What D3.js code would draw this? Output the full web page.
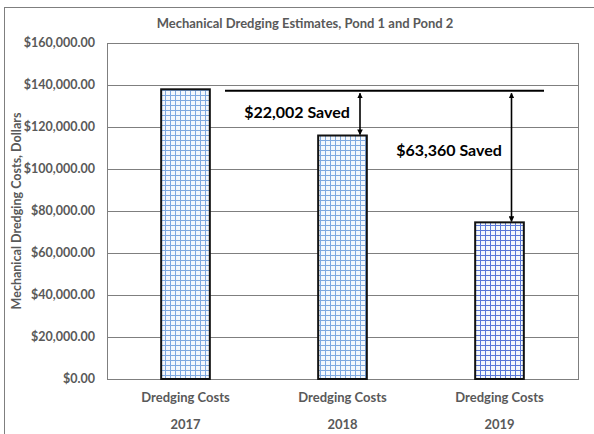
<!DOCTYPE html>
<html>
<head>
<meta charset="utf-8">
<script src="https://cdn.jsdelivr.net/npm/d3@7"></script>
<style>
  body { margin: 0; background: #fff; }
  svg text { font-family: Lato, "Open Sans", sans-serif; }
</style>
</head>
<body>
<div id="chart"></div>
<script>
// chart data
const categories = ["2017", "2018", "2019"];
const catLabel = "Dredging Costs";
const costs = [137950, 115948, 74590];
const gridColors = ["#7fa9e0", "#7fa9e0", "#5a78d8"];
const yTicks = [0, 20000, 40000, 60000, 80000, 100000, 120000, 140000, 160000];
const savings = [
  { label: "$22,002 Saved", to: 1 },
  { label: "$63,360 Saved", to: 2 }
];

const width = 594, height = 434;
const margin = { top: 43, right: 16, bottom: 55, left: 107 };

let svg = d3.select('#chart').append('svg')
  .attr('width', width).attr('height', height);

// outer chart frame (runs off the picture right/bottom)
svg.append('rect')
  .attr('x', 4.5).attr('y', 7.5)
  .attr('width', width + 10).attr('height', height + 10)
  .attr('fill', 'none').attr('stroke', '#7f7f7f').attr('stroke-width', 1);

let defs = svg.append('defs');
gridColors.forEach((c, i) => {
  let p = defs.append('pattern')
    .attr('id', 'grid' + i)
    .attr('patternUnits', 'userSpaceOnUse')
    .attr('width', 5).attr('height', 5);
  p.append('rect').attr('width', 5).attr('height', 5).attr('fill', '#f4f8fd');
  p.append('path').attr('d', 'M0,0.5H5M0.5,0V5')
    .attr('stroke', c).attr('stroke-width', 1).attr('fill', 'none');
});

let x = d3.scaleBand()
  .domain(categories)
  .range([margin.left, width - margin.right])
  .paddingInner(0.69).paddingOuter(0.345);

let y = d3.scaleLinear()
  .domain([0, 160000])
  .range([height - margin.bottom, margin.top]);

// gridlines
svg.append('g')
  .selectAll('line').data(yTicks).join('line')
  .attr('x1', margin.left).attr('x2', width - margin.right)
  .attr('y1', d => Math.round(y(d)) + 0.5).attr('y2', d => Math.round(y(d)) + 0.5)
  .attr('stroke', '#7f7f7f').attr('stroke-width', 1);

// plot frame
svg.append('rect')
  .attr('x', margin.left + 0.5).attr('y', Math.round(y(160000)) + 0.5)
  .attr('width', width - margin.right - margin.left)
  .attr('height', Math.round(y(0)) - Math.round(y(160000)))
  .attr('fill', 'none').attr('stroke', '#7f7f7f');

// y tick labels
let fmt = d3.format('$,.2f');
svg.append('g')
  .selectAll('text').data(yTicks).join('text')
  .attr('x', 95).attr('y', d => y(d))
  .attr('dy', '0.35em')
  .attr('text-anchor', 'end')
  .attr('font-size', 12.5).attr('font-weight', 'bold').attr('fill', '#595959')
  .text(d => fmt(d));

// bars
svg.append('g')
  .selectAll('rect').data(costs).join('rect')
  .attr('x', (d, i) => x(categories[i]))
  .attr('y', d => y(d))
  .attr('width', x.bandwidth())
  .attr('height', d => y(0) - y(d))
  .attr('fill', (d, i) => `url(#grid${i})`)
  .attr('stroke', '#111').attr('stroke-width', 2);

// x labels
let xl = svg.append('g');
xl.selectAll('text.cat').data(categories).join('text')
  .attr('class', 'cat')
  .attr('x', d => x(d) + x.bandwidth() / 2).attr('y', 402)
  .attr('text-anchor', 'middle')
  .attr('font-size', 13).attr('font-weight', 'bold').attr('fill', '#595959')
  .text(catLabel);
xl.selectAll('text.yr').data(categories).join('text')
  .attr('class', 'yr')
  .attr('x', d => x(d) + x.bandwidth() / 2).attr('y', 429)
  .attr('text-anchor', 'middle')
  .attr('font-size', 13).attr('font-weight', 'bold').attr('fill', '#595959')
  .text(d => d);

// title
svg.append('text')
  .attr('x', 305).attr('y', 28)
  .attr('text-anchor', 'middle')
  .attr('font-size', 13).attr('font-weight', 'bold').attr('fill', '#595959')
  .text('Mechanical Dredging Estimates, Pond 1 and Pond 2');

// y axis title
svg.append('text')
  .attr('transform', `translate(21,${(y(0) + y(160000)) / 2}) rotate(-90)`)
  .attr('text-anchor', 'middle')
  .attr('font-size', 12.5).attr('font-weight', 'bold').attr('fill', '#595959')
  .text('Mechanical Dredging Costs, Dollars');

// baseline reference line at the 2017 cost
svg.append('line')
  .attr('x1', 225).attr('x2', 544)
  .attr('y1', y(costs[0]) + 1.5).attr('y2', y(costs[0]) + 1.5)
  .attr('stroke', '#000').attr('stroke-width', 2);

// arrows
defs.append('marker')
  .attr('id', 'ah').attr('viewBox', '0 0 10 10')
  .attr('refX', 9).attr('refY', 5)
  .attr('markerWidth', 3.5).attr('markerHeight', 3.5)
  .attr('orient', 'auto-start-reverse')
  .append('path').attr('d', 'M0,0L10,5L0,10z').attr('fill', '#000');

const arrowX = [null, 360, 511.5];
const labelPos = [null, [297, 118], [449, 156]];
savings.forEach(s => {
  svg.append('line')
    .attr('x1', arrowX[s.to]).attr('x2', arrowX[s.to])
    .attr('y1', y(costs[0]) + 4).attr('y2', y(costs[s.to]) - 1)
    .attr('stroke', '#000').attr('stroke-width', 1.6)
    .attr('marker-start', 'url(#ah)').attr('marker-end', 'url(#ah)');
  svg.append('text')
    .attr('x', labelPos[s.to][0]).attr('y', labelPos[s.to][1])
    .attr('text-anchor', 'middle')
    .attr('font-size', 16).attr('font-weight', 'bold').attr('fill', '#000')
    .text(s.label);
});
</script>
</body>
</html>
